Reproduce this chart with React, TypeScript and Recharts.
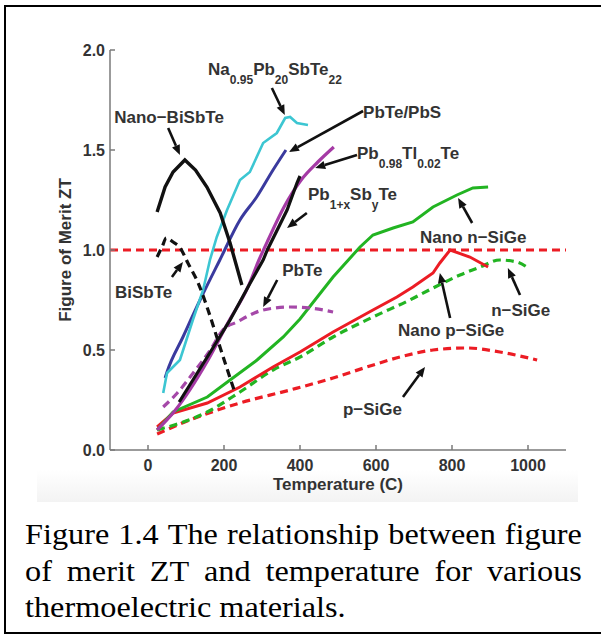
import React from 'react';
import { LineChart, Line, XAxis, YAxis, ReferenceLine, ReferenceDot, Label } from 'recharts';

const xTicks = [0, 200, 400, 600, 800, 1000];
const yTicks = [0, 0.5, 1, 1.5, 2];

// [temperature (C), ZT]
const nanoBiSbTe = [[24, 1.19], [45, 1.315], [66, 1.39], [97, 1.45], [125, 1.4], [155, 1.315], [190, 1.185], [216, 1.035], [247, 0.825]];
const biSbTe = [[24, 0.965], [38, 1.02], [48, 1.06], [66, 1.04], [85, 1.01], [105, 0.935], [132, 0.835], [158, 0.7], [181, 0.565], [203, 0.435], [230, 0.28]];
const naPbSbTe = [[40, 0.285], [50, 0.385], [84, 0.45], [118, 0.65], [145, 0.8], [163, 0.95], [181, 1.065], [208, 1.2], [242, 1.35], [268, 1.39], [303, 1.535], [339, 1.585], [361, 1.66], [374, 1.665], [392, 1.635], [421, 1.625]];
const pbTePbS = [[45, 0.36], [50, 0.39], [92, 0.565], [137, 0.75], [189, 0.95], [242, 1.15], [286, 1.265], [329, 1.4], [363, 1.5]];
const pbTlTe = [[24, 0.1], [68, 0.19], [158, 0.45], [210, 0.635], [263, 0.815], [292, 0.95], [316, 1.05], [358, 1.215], [403, 1.35], [447, 1.44], [489, 1.515]];
const pbSbTe = [[82, 0.24], [156, 0.465], [216, 0.65], [269, 0.835], [303, 0.95], [314, 1.0], [366, 1.2], [392, 1.335], [400, 1.37]];
const pbTe = [[40, 0.215], [77, 0.285], [119, 0.385], [164, 0.5], [197, 0.6], [234, 0.64], [303, 0.7], [374, 0.715], [426, 0.71], [487, 0.69]];
const nanoNSiGe = [[24, 0.1], [66, 0.19], [156, 0.265], [216, 0.35], [287, 0.45], [356, 0.565], [400, 0.655], [487, 0.865], [558, 1.015], [592, 1.075], [645, 1.11], [697, 1.14], [750, 1.215], [813, 1.275], [855, 1.31], [895, 1.315]];
const nanoPSiGe = [[24, 0.115], [66, 0.185], [156, 0.235], [242, 0.315], [329, 0.415], [400, 0.49], [487, 0.59], [592, 0.7], [655, 0.765], [697, 0.815], [750, 0.885], [768, 0.935], [795, 1.0], [847, 0.965], [895, 0.915]];
const nSiGe = [[24, 0.1], [156, 0.19], [242, 0.29], [329, 0.4], [400, 0.465], [487, 0.565], [592, 0.665], [689, 0.75], [750, 0.81], [821, 0.875], [874, 0.915], [926, 0.95], [971, 0.94], [997, 0.915]];
const pSiGe = [[24, 0.08], [110, 0.15], [242, 0.235], [374, 0.3], [487, 0.36], [576, 0.415], [663, 0.465], [750, 0.5], [840, 0.51], [926, 0.49], [1024, 0.45]];

const captionLines = [
  'Figure 1.4 The relationship between figure',
  'of merit ZT and temperature for various',
  'thermoelectric materials.',
];

const toRows = (pts: number[][]) => pts.map(([t, zt]) => ({ t, zt }));

const series = [
  { id: 'pSiGe', pts: pSiGe, color: '#ec1c24', width: 3.2, dash: '8 5', curve: 'monotone' },
  { id: 'nSiGe', pts: nSiGe, color: '#22b422', width: 3.2, dash: '8 5', curve: 'monotone' },
  { id: 'nanoPSiGe', pts: nanoPSiGe, color: '#ec1c24', width: 3, dash: undefined, curve: 'linear' },
  { id: 'nanoNSiGe', pts: nanoNSiGe, color: '#22b422', width: 3, dash: undefined, curve: 'linear' },
  { id: 'pbTe', pts: pbTe, color: '#a548a8', width: 3.2, dash: '8 5', curve: 'monotone' },
  { id: 'pbTlTe', pts: pbTlTe, color: '#a53aa5', width: 3.2, dash: undefined, curve: 'monotone' },
  { id: 'pbSbTe', pts: pbSbTe, color: '#111111', width: 3.2, dash: undefined, curve: 'linear' },
  { id: 'pbTePbS', pts: pbTePbS, color: '#3a3a9e', width: 3, dash: undefined, curve: 'monotone' },
  { id: 'naPbSbTe', pts: naPbSbTe, color: '#3cc6d2', width: 2.6, dash: undefined, curve: 'linear' },
  { id: 'biSbTe', pts: biSbTe, color: '#111111', width: 3.2, dash: '8 5', curve: 'monotone' },
  { id: 'nanoBiSbTe', pts: nanoBiSbTe, color: '#111111', width: 3.4, dash: undefined, curve: 'linear' },
];

// annotation text: anchor (start, baseline) in data units, pieces [text, isSubscript]
const labels: { t: number; zt: number; parts: [string, boolean][] }[] = [
  { t: 158, zt: 1.875, parts: [['Na', false], ['0.95', true], ['Pb', false], ['20', true], ['SbTe', false], ['22', true]] },
  { t: -89, zt: 1.635, parts: [['Nano−BiSbTe', false]] },
  { t: 566, zt: 1.66, parts: [['PbTe/PbS', false]] },
  { t: 550, zt: 1.455, parts: [['Pb', false], ['0.98', true], ['Tl', false], ['0.02', true], ['Te', false]] },
  { t: 421, zt: 1.25, parts: [['Pb', false], ['1+x', true], ['Sb', false], ['y', true], ['Te', false]] },
  { t: 353, zt: 0.87, parts: [['PbTe', false]] },
  { t: -87, zt: 0.76, parts: [['BiSbTe', false]] },
  { t: 716, zt: 1.035, parts: [['Nano n−SiGe', false]] },
  { t: 658, zt: 0.57, parts: [['Nano p−SiGe', false]] },
  { t: 903, zt: 0.67, parts: [['n−SiGe', false]] },
  { t: 513, zt: 0.175, parts: [['p−SiGe', false]] },
];

// arrows: [tail T, tail ZT, head T, head ZT]
const arrows = [
  [326, 1.81, 360, 1.675],
  [53, 1.61, 84, 1.475],
  [566, 1.695, 371, 1.49],
  [550, 1.475, 440, 1.41],
  [418, 1.185, 366, 1.11],
  [340, 0.85, 303, 0.715],
  [63, 0.865, 92, 0.94],
  [853, 1.135, 816, 1.26],
  [795, 0.66, 768, 0.885],
  [979, 0.775, 947, 0.91],
  [671, 0.265, 729, 0.415],
];

const SANS = '"Liberation Sans", Arial, Helvetica, sans-serif';
const SERIF = '"Liberation Serif", "Times New Roman", Times, serif';
const TEXT = '#333';
const AXIS = '#7a7a7a';

const arrowShape = (p: any) => {
  const { x1, y1, x2, y2 } = p;
  const a = Math.atan2(y2 - y1, x2 - x1);
  const len = 10;
  const half = 4.2;
  const bx = x2 - len * Math.cos(a);
  const by = y2 - len * Math.sin(a);
  const pts = [
    `${x2},${y2}`,
    `${bx + half * Math.sin(a)},${by - half * Math.cos(a)}`,
    `${bx - half * Math.sin(a)},${by + half * Math.cos(a)}`,
  ].join(' ');
  return (
    <g>
      <line x1={x1} y1={y1} x2={bx} y2={by} stroke="#111" strokeWidth={2.6} />
      <polygon points={pts} fill="#111" />
    </g>
  );
};

const textShape = (parts: [string, boolean][]) => (p: any) => {
  let shift = 0;
  return (
    <text x={p.cx} y={p.cy} fill={TEXT} fontFamily={SANS} fontWeight="bold" fontSize={17}>
      {parts.map(([s, sub], i) => {
        const target = sub ? 9 : 0;
        const dy = target - shift;
        shift = target;
        return (
          <tspan key={i} dy={dy} fontSize={sub ? 12 : 17}>
            {s}
          </tspan>
        );
      })}
    </text>
  );
};

const tickStyle = { fill: TEXT, fontSize: 16, fontWeight: 'bold', fontFamily: SANS };

// caption: justified lines 1-2 via flex, last line left aligned
const Caption = () => (
  <div style={{ position: 'absolute', left: 25, top: 517, width: 492, fontFamily: SERIF, fontSize: 28.5, lineHeight: '36.5px', color: '#000', transform: 'scaleX(1.132)', transformOrigin: '0 0' }}>
    {captionLines.map((line, i) => {
      const last = i === captionLines.length - 1;
      if (last) return <div key={i} style={{ whiteSpace: 'nowrap' }}>{line}</div>;
      const words = line.split(' ');
      return (
        <div key={i} style={{ display: 'flex', justifyContent: 'space-between', whiteSpace: 'nowrap' }}>
          {words.map((w, j) => (
            <span key={j}>{j < words.length - 1 ? w + ' ' : w}</span>
          ))}
        </div>
      );
    })}
  </div>
);

export default function App() {
  return (
    <div style={{ position: 'absolute', left: 0, top: 0, width: 601, height: 635, background: '#fff', overflow: 'hidden' }}>
      <div style={{ position: 'absolute', left: 37, top: 470, width: 541, height: 32, background: 'linear-gradient(to bottom, #ffffff, #f3f3f3)' }} />
      <div style={{ position: 'absolute', left: 4, top: 5, width: 610, height: 629, boxSizing: 'border-box', border: '2px solid #000' }} />
      <div style={{ position: 'absolute', left: 0, top: 0 }}>
        <LineChart width={601} height={505} margin={{ top: 50, right: 35, bottom: 25, left: 0 }}>
          <XAxis
            dataKey="t"
            type="number"
            domain={[-100, 1100]}
            ticks={xTicks}
            allowDataOverflow
            height={30}
            stroke={AXIS}
            strokeWidth={1.5}
            tickSize={-5}
            tickMargin={15}
            tick={tickStyle}
          >
            <Label value="Temperature (C)" position="bottom" offset={-2} style={{ fill: TEXT, fontSize: 17, fontWeight: 'bold', fontFamily: SANS }} />
          </XAxis>
          <XAxis
            xAxisId="top"
            orientation="top"
            type="number"
            domain={[-100, 1100]}
            ticks={xTicks}
            height={0}
            stroke={AXIS}
            strokeWidth={1.5}
            tickSize={-5}
            tickFormatter={() => ''}
          />
          <YAxis
            dataKey="zt"
            type="number"
            domain={[0, 2]}
            ticks={yTicks}
            allowDataOverflow
            width={110}
            stroke={AXIS}
            strokeWidth={1.5}
            tickSize={-5}
            tickMargin={10}
            tick={tickStyle}
            tickFormatter={(v: number) => v.toFixed(1)}
          >
            <Label
              value="Figure of Merit ZT"
              angle={-90}
              position="insideLeft"
              offset={65}
              style={{ textAnchor: 'middle', fill: TEXT, fontSize: 17, fontWeight: 'bold', fontFamily: SANS }}
            />
          </YAxis>
          <YAxis
            yAxisId="right"
            orientation="right"
            type="number"
            domain={[0, 2]}
            ticks={yTicks}
            width={0}
            stroke={AXIS}
            strokeWidth={1.5}
            tickSize={-5}
            tickFormatter={() => ''}
          />
          <ReferenceLine y={1} stroke="#ec1c24" strokeWidth={3.2} strokeDasharray="8 5" />
          {series.map((s) => (
            <Line
              key={s.id}
              data={toRows(s.pts)}
              dataKey="zt"
              type={s.curve as any}
              stroke={s.color}
              strokeWidth={s.width}
              strokeDasharray={s.dash}
              dot={false}
              activeDot={false}
              isAnimationActive={false}
            />
          ))}
          {arrows.map(([t1, z1, t2, z2], i) => (
            <ReferenceLine key={`a${i}`} segment={[{ x: t1, y: z1 }, { x: t2, y: z2 }]} ifOverflow="visible" shape={arrowShape} />
          ))}
          {labels.map((l, i) => (
            <ReferenceDot key={`l${i}`} x={l.t} y={l.zt} r={1} ifOverflow="visible" shape={textShape(l.parts)} />
          ))}
        </LineChart>
      </div>
      <Caption />
    </div>
  );
}
